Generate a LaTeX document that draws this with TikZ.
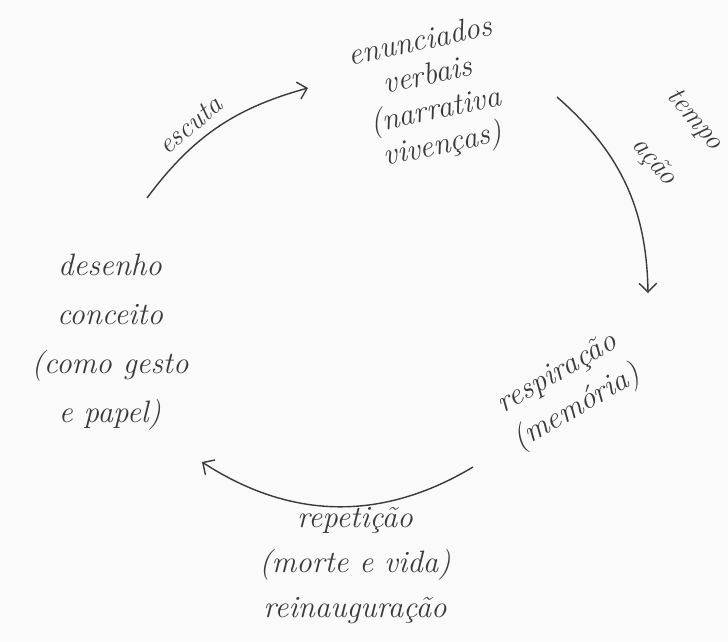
\documentclass[tikz,border=0pt]{standalone}
\usetikzlibrary{arrows.meta}
\definecolor{ink}{HTML}{3A3A3A}
\definecolor{paper}{HTML}{FAFAFA}

\begin{document}
\begin{tikzpicture}[x=0.025cm, y=-0.025cm,
    hand/.style={font=\fontsize{22}{25}\selectfont\itshape, text=ink, align=center, inner sep=1pt},
    note/.style={font=\fontsize{20}{24}\selectfont\itshape, text=ink, inner sep=1pt},
    flow/.style={draw=ink, line width=1pt, -{Straight Barb[length=2.2mm,width=4.4mm]}}]
  \fill[paper] (0,0) rectangle (728,641);
  \useasboundingbox (0,0) rectangle (728,641);

  % the four stations of the cycle
  \node[hand, rotate=12] (enunc) at (432,95) {enunciados\\verbais\\(narrativa\\viven\c{c}as)};
  \node[hand, rotate=30, font=\fontsize{22}{28}\selectfont\itshape] (resp) at (568,392) {respira\c{c}\~ao\\(mem\'oria)};
  \node[hand, font=\fontsize{22}{32}\selectfont\itshape] (repet) at (355,566) {repeti\c{c}\~ao\\(morte e vida)\\reinaugura\c{c}\~ao};
  \node[hand, font=\fontsize{22}{35}\selectfont\itshape] (desen) at (110,342) {desenho\\conceito\\(como gesto\\e papel)};

  % arrow ends
  \coordinate (e1) at (147,198);
  \coordinate (e2) at (308,88);
  \coordinate (t1) at (557,97);
  \coordinate (t2) at (648,293);
  \coordinate (r1) at (473,467);
  \coordinate (r2) at (202,462);

  \draw[flow] (e1) to[bend left=19] (e2);
  \draw[flow] (t1) to[bend left=24] (t2);
  \draw[flow] (r1) to[bend left=32] (r2);

  % words along the arrows
  \node[note, rotate=40] (escuta) at (190,125) {escuta};
  \node[note, rotate=-50] (tempo) at (694,120) {tempo};
  \node[note, rotate=-50] (acao) at (654,162) {a\c{c}\~ao};
\end{tikzpicture}
\end{document}
